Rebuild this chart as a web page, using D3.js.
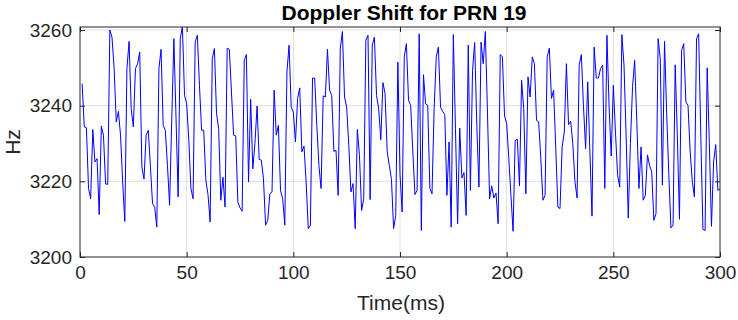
<!DOCTYPE html>
<html>
<head>
<meta charset="utf-8">
<script src="https://cdn.jsdelivr.net/npm/d3@7"></script>
<style>
  body { margin: 0; background: #fff; }
  text { font-family: "Liberation Sans", Arial, sans-serif; }
</style>
</head>
<body>
<div id="chart"></div>
<script>
// Doppler samples, one per ms, t = 1..300
const doppler = [
  3245.8, 3234.4, 3234.2, 3218.1, 3215.4, 3233.7, 3225.1, 3226.0, 3211.2, 3234.6,
  3232.2, 3219.3, 3219.2, 3260.0, 3258.1, 3249.8, 3235.7, 3238.5, 3232.2, 3219.8,
  3209.4, 3249.8, 3257.0, 3239.2, 3234.4, 3249.8, 3251.1, 3254.2, 3223.8, 3220.6,
  3232.2, 3233.5, 3224.0, 3214.1, 3213.2, 3207.9, 3249.8, 3254.9, 3234.8, 3233.5,
  3224.2, 3213.7, 3236.0, 3257.7, 3237.0, 3215.9, 3257.7, 3261.0, 3242.7, 3240.5,
  3231.0, 3218.1, 3215.4, 3256.8, 3258.6, 3245.4, 3233.5, 3233.5, 3220.3, 3216.5,
  3209.3, 3252.4, 3255.1, 3237.9, 3233.9, 3215.0, 3221.1, 3213.2, 3255.2, 3254.9,
  3243.6, 3232.2, 3232.0, 3214.5, 3213.0, 3212.1, 3252.0, 3253.5, 3219.8, 3241.7,
  3223.3, 3230.0, 3239.9, 3225.8, 3225.6, 3220.7, 3208.4, 3209.7, 3216.7, 3217.2,
  3244.1, 3232.2, 3234.8, 3217.6, 3215.4, 3208.4, 3248.9, 3256.0, 3239.6, 3238.3,
  3230.4, 3241.9, 3244.7, 3227.8, 3229.3, 3219.8, 3207.5, 3208.4, 3247.3, 3247.3,
  3234.8, 3224.2, 3218.1, 3242.6, 3242.3, 3254.9, 3244.1, 3242.7, 3227.9, 3228.2,
  3216.3, 3255.1, 3259.6, 3242.3, 3239.6, 3229.5, 3217.2, 3219.4, 3207.5, 3233.7,
  3226.9, 3212.3, 3215.4, 3257.3, 3258.6, 3215.2, 3256.0, 3258.1, 3242.7, 3239.2,
  3231.0, 3246.1, 3243.2, 3227.8, 3224.2, 3220.5, 3207.5, 3211.0, 3251.5, 3222.0,
  3211.9, 3252.9, 3256.4, 3241.4, 3240.1, 3228.0, 3216.5, 3217.6, 3259.0, 3207.0,
  3248.2, 3240.5, 3240.1, 3218.1, 3216.7, 3239.2, 3252.9, 3255.5, 3239.6, 3238.5,
  3237.6, 3216.3, 3230.4, 3207.9, 3258.8, 3234.0, 3208.8, 3234.1, 3220.9, 3222.3,
  3211.0, 3256.0, 3217.6, 3249.3, 3256.7, 3234.8, 3218.5, 3256.8, 3251.1, 3259.6,
  3238.3, 3215.4, 3218.8, 3215.6, 3216.9, 3208.8, 3253.5, 3252.9, 3237.3, 3235.2,
  3226.0, 3216.3, 3206.8, 3230.8, 3231.1, 3218.8, 3246.7, 3239.2, 3216.7, 3247.6,
  3242.3, 3252.9, 3251.1, 3236.1, 3235.7, 3226.0, 3215.0, 3216.3, 3252.9, 3255.2,
  3241.9, 3244.1, 3229.0, 3213.2, 3212.8, 3229.1, 3233.0, 3251.1, 3235.0, 3235.9,
  3230.0, 3220.0, 3215.6, 3250.8, 3253.5, 3240.0, 3228.6, 3246.3, 3228.0, 3210.8,
  3255.5, 3247.3, 3247.3, 3249.8, 3250.7, 3218.1, 3258.6, 3240.0, 3226.7, 3245.4,
  3233.0, 3221.6, 3218.5, 3258.8, 3250.7, 3232.0, 3210.3, 3230.0, 3245.0, 3252.0,
  3236.0, 3218.1, 3229.1, 3215.0, 3216.3, 3227.0, 3224.2, 3222.5, 3209.7, 3211.5,
  3257.7, 3252.4, 3219.0, 3257.0, 3238.0, 3222.0, 3207.7, 3208.5, 3250.8, 3232.0,
  3210.0, 3254.6, 3256.4, 3241.0, 3240.1, 3228.0, 3220.0, 3215.9, 3257.7, 3259.0,
  3232.0, 3207.3, 3207.0, 3250.0, 3230.0, 3208.1, 3225.1, 3229.7, 3217.6, 3218.0
];
const timeMs = doppler.map((d, i) => i + 1);

const xTicks = [0, 50, 100, 150, 200, 250, 300];
const yTicks = [3200, 3220, 3240, 3260];

const margin = {top: 27, right: 18, bottom: 63, left: 80},
      width = 738 - margin.left - margin.right,
      height = 320 - margin.top - margin.bottom;

const ink = "#262626";

const svg = d3.select("#chart")
  .append("svg")
  .attr("width", 738)
  .attr("height", 320)
  .append("g")
  .attr("transform", `translate(${margin.left},${margin.top})`);

const x = d3.scaleLinear().domain([0, 300]).range([0, width]);
const y = d3.scaleLinear().domain([3200, 3260.8]).range([height, 0]);

// grid
svg.append("g")
  .selectAll("line")
  .data(xTicks.slice(1, -1))
  .enter().append("line")
  .attr("x1", d => x(d)).attr("x2", d => x(d))
  .attr("y1", 0).attr("y2", height)
  .attr("stroke", "#dfdfdf");
svg.append("g")
  .selectAll("line")
  .data(yTicks.slice(1))
  .enter().append("line")
  .attr("x1", 0).attr("x2", width)
  .attr("y1", d => y(d)).attr("y2", d => y(d))
  .attr("stroke", "#dfdfdf");

// data line
svg.append("clipPath").attr("id", "clip")
  .append("rect").attr("width", width).attr("height", height);

const line = d3.line()
  .x((d, i) => x(timeMs[i]))
  .y(d => y(d));

svg.append("path")
  .datum(doppler)
  .attr("clip-path", "url(#clip)")
  .attr("fill", "none")
  .attr("stroke", "#0000ff")
  .attr("stroke-width", 1)
  .attr("d", line);

// axes (ticks pointing inside, mirrored on top/right)
function styleAxis(g) {
  g.select(".domain").remove();
  g.selectAll(".tick line").attr("stroke", ink);
  g.selectAll(".tick text")
    .attr("fill", ink)
    .style("font-size", "19px")
    .style("font-family", "'Liberation Sans', Arial, sans-serif");
}

svg.append("g")
  .attr("transform", `translate(0,${height})`)
  .call(d3.axisBottom(x).tickValues(xTicks).tickFormat(d3.format("d"))
    .tickSizeInner(-5).tickSizeOuter(0).tickPadding(9))
  .call(styleAxis);

svg.append("g")
  .call(d3.axisLeft(y).tickValues(yTicks).tickFormat(d3.format("d"))
    .tickSizeInner(-5).tickSizeOuter(0).tickPadding(8))
  .call(styleAxis);

svg.append("g")
  .call(d3.axisTop(x).tickValues(xTicks).tickSizeInner(-5).tickSizeOuter(0).tickFormat(""))
  .call(styleAxis);

svg.append("g")
  .attr("transform", `translate(${width},0)`)
  .call(d3.axisRight(y).tickValues(yTicks).tickSizeInner(-5).tickSizeOuter(0).tickFormat(""))
  .call(styleAxis);

// box
svg.append("rect")
  .attr("x", 0).attr("y", 0)
  .attr("width", width).attr("height", height)
  .attr("fill", "none")
  .attr("stroke", ink)
  .attr("stroke-width", 1);

// labels
svg.append("text")
  .attr("x", width / 2 + 4)
  .attr("y", -7)
  .attr("text-anchor", "middle")
  .style("font-size", "21px")
  .style("font-weight", "bold")
  .attr("fill", "#000")
  .text("Doppler Shift for PRN 19");

svg.append("text")
  .attr("x", width / 2 + 1)
  .attr("y", height + 53)
  .attr("text-anchor", "middle")
  .style("font-size", "21px")
  .attr("fill", ink)
  .text("Time(ms)");

svg.append("text")
  .attr("transform", "rotate(-90)")
  .attr("x", -height / 2)
  .attr("y", -60)
  .attr("text-anchor", "middle")
  .style("font-size", "21px")
  .attr("fill", ink)
  .text("Hz");
</script>
</body>
</html>
